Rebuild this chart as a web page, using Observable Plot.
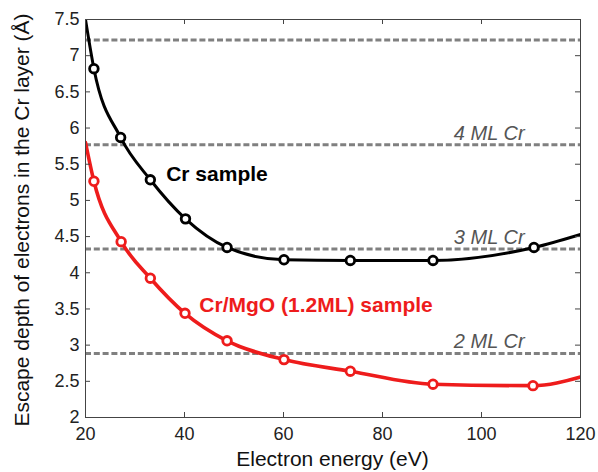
<!DOCTYPE html>
<html>
<head>
<meta charset="utf-8">
<script src="https://cdn.jsdelivr.net/npm/d3@7"></script>
<script src="https://cdn.jsdelivr.net/npm/@observablehq/plot@0.6"></script>
<style>
  html, body { margin: 0; padding: 0; background: #fff; }
  #chart svg { display: block; }
</style>
</head>
<body>
<div id="chart"></div>
<script>
// Curve points (including the ends at the frame edges)
const lineEnergy = [20, 21.7, 27.1, 33.1, 40.2, 48.6, 60.1, 73.5, 90.2, 110.6, 120];
const crDepth    = [7.5, 6.82, 5.87, 5.285, 4.745, 4.35, 4.18, 4.17, 4.17, 4.35, 4.53];
const mgoEnergy  = [20, 21.7, 27.2, 33.1, 40.1, 48.6, 60.1, 73.5, 90.2, 110.4, 120];
const mgoDepth   = [5.8, 5.265, 4.43, 3.925, 3.44, 3.06, 2.80, 2.64, 2.46, 2.44, 2.56];
// Measured points (markers) are the interior points
const markerIdx = [1, 2, 3, 4, 5, 6, 7, 8, 9];

const mlLevels = [7.215, 5.77, 4.33, 2.885];
const mlLabels = ["", "4 ML Cr", "3 ML Cr", "2 ML Cr"];

const xTicks = [20, 40, 60, 80, 100, 120];
const yTicks = [2, 2.5, 3, 3.5, 4, 4.5, 5, 5.5, 6, 6.5, 7, 7.5];

const sampleLabels = ["Cr sample", "Cr/MgO (1.2ML) sample"];
const sampleLabelX = [36.3, 43.0];
const sampleLabelY = [5.275, 3.455];
const sampleColors = ["#000000", "#ee1c1c"];

const crData = lineEnergy.map((e, i) => ({e, d: crDepth[i]}));
const mgoData = mgoEnergy.map((e, i) => ({e, d: mgoDepth[i]}));
const crMarkers = markerIdx.map(i => crData[i]);
const mgoMarkers = markerIdx.map(i => mgoData[i]);
const mlData = mlLevels.map((v, i) => ({v, label: mlLabels[i]}));
const sampleData = sampleLabels.map((t, i) => ({t, x: sampleLabelX[i], y: sampleLabelY[i], c: sampleColors[i]}));

const font = "'Liberation Sans', Arial, Helvetica, sans-serif";
const W = 598, H = 472, mL = 85, mR = 18, mT = 19, mB = 55;
const plotW = W - mL - mR, plotH = H - mT - mB;
const tickLen = 5;

const chart = Plot.plot({
  width: W,
  height: H,
  marginLeft: mL,
  marginRight: mR,
  marginTop: mT,
  marginBottom: mB,
  style: {fontFamily: font, fontSize: "18px", color: "#222", background: "#fff"},
  x: {domain: [20, 120], label: null},
  y: {domain: [2, 7.5], label: null},
  marks: [
    Plot.ruleY(mlData, {y: "v", stroke: "#808080", strokeWidth: 3, strokeDasharray: "6,2.8"}),
    Plot.text(mlData, {x: 108.7, y: "v", text: "label", textAnchor: "end", lineAnchor: "bottom", dy: -5,
      fill: "#555", fontStyle: "italic", fontSize: 20}),
    Plot.line(crData, {x: "e", y: "d", stroke: "#000", strokeWidth: 3, curve: "monotone-x", clip: true}),
    Plot.line(mgoData, {x: "e", y: "d", stroke: "#ee1c1c", strokeWidth: 3.6, curve: "monotone-x", clip: true}),
    Plot.dot(crMarkers, {x: "e", y: "d", r: 4.3, stroke: "#000", strokeWidth: 2.8, fill: "#fff"}),
    Plot.dot(mgoMarkers, {x: "e", y: "d", r: 4.3, stroke: "#ee1c1c", strokeWidth: 2.8, fill: "#fff"}),
    Plot.text(sampleData, {x: "x", y: "y", text: "t", fill: "c", textAnchor: "start", lineAnchor: "bottom",
      fontWeight: "bold", fontSize: 21}),
    // inward ticks on all four sides
    Plot.tickX(xTicks, {x: d => d, insetTop: plotH - tickLen, stroke: "#444", strokeWidth: 1}),
    Plot.tickX(xTicks, {x: d => d, insetBottom: plotH - tickLen, stroke: "#444", strokeWidth: 1}),
    Plot.tickY(yTicks, {y: d => d, insetRight: plotW - tickLen, stroke: "#444", strokeWidth: 1}),
    Plot.tickY(yTicks, {y: d => d, insetLeft: plotW - tickLen, stroke: "#444", strokeWidth: 1}),
    Plot.frame({stroke: "#444", strokeWidth: 1}),
    Plot.axisX({anchor: "bottom", ticks: xTicks, tickSize: 0, tickPadding: 10, fontSize: 18, fill: "#222", label: null}),
    Plot.axisY({anchor: "left", ticks: yTicks, tickSize: 0, tickPadding: 6, fontSize: 18, fill: "#222", tickFormat: d => String(d), label: null})
  ]
});

const svg = d3.select(chart);
svg.append("text")
  .attr("x", mL + plotW / 2)
  .attr("y", 466)
  .attr("text-anchor", "middle")
  .attr("font-family", font)
  .attr("font-size", 21)
  .attr("fill", "#111")
  .text("Electron energy (eV)");
svg.append("text")
  .attr("transform", "translate(29,220) rotate(-90)")
  .attr("text-anchor", "middle")
  .attr("font-family", font)
  .attr("font-size", 21)
  .attr("fill", "#111")
  .text("Escape depth of electrons in the Cr layer (Å)");

document.getElementById("chart").appendChild(chart);
</script>
</body>
</html>
